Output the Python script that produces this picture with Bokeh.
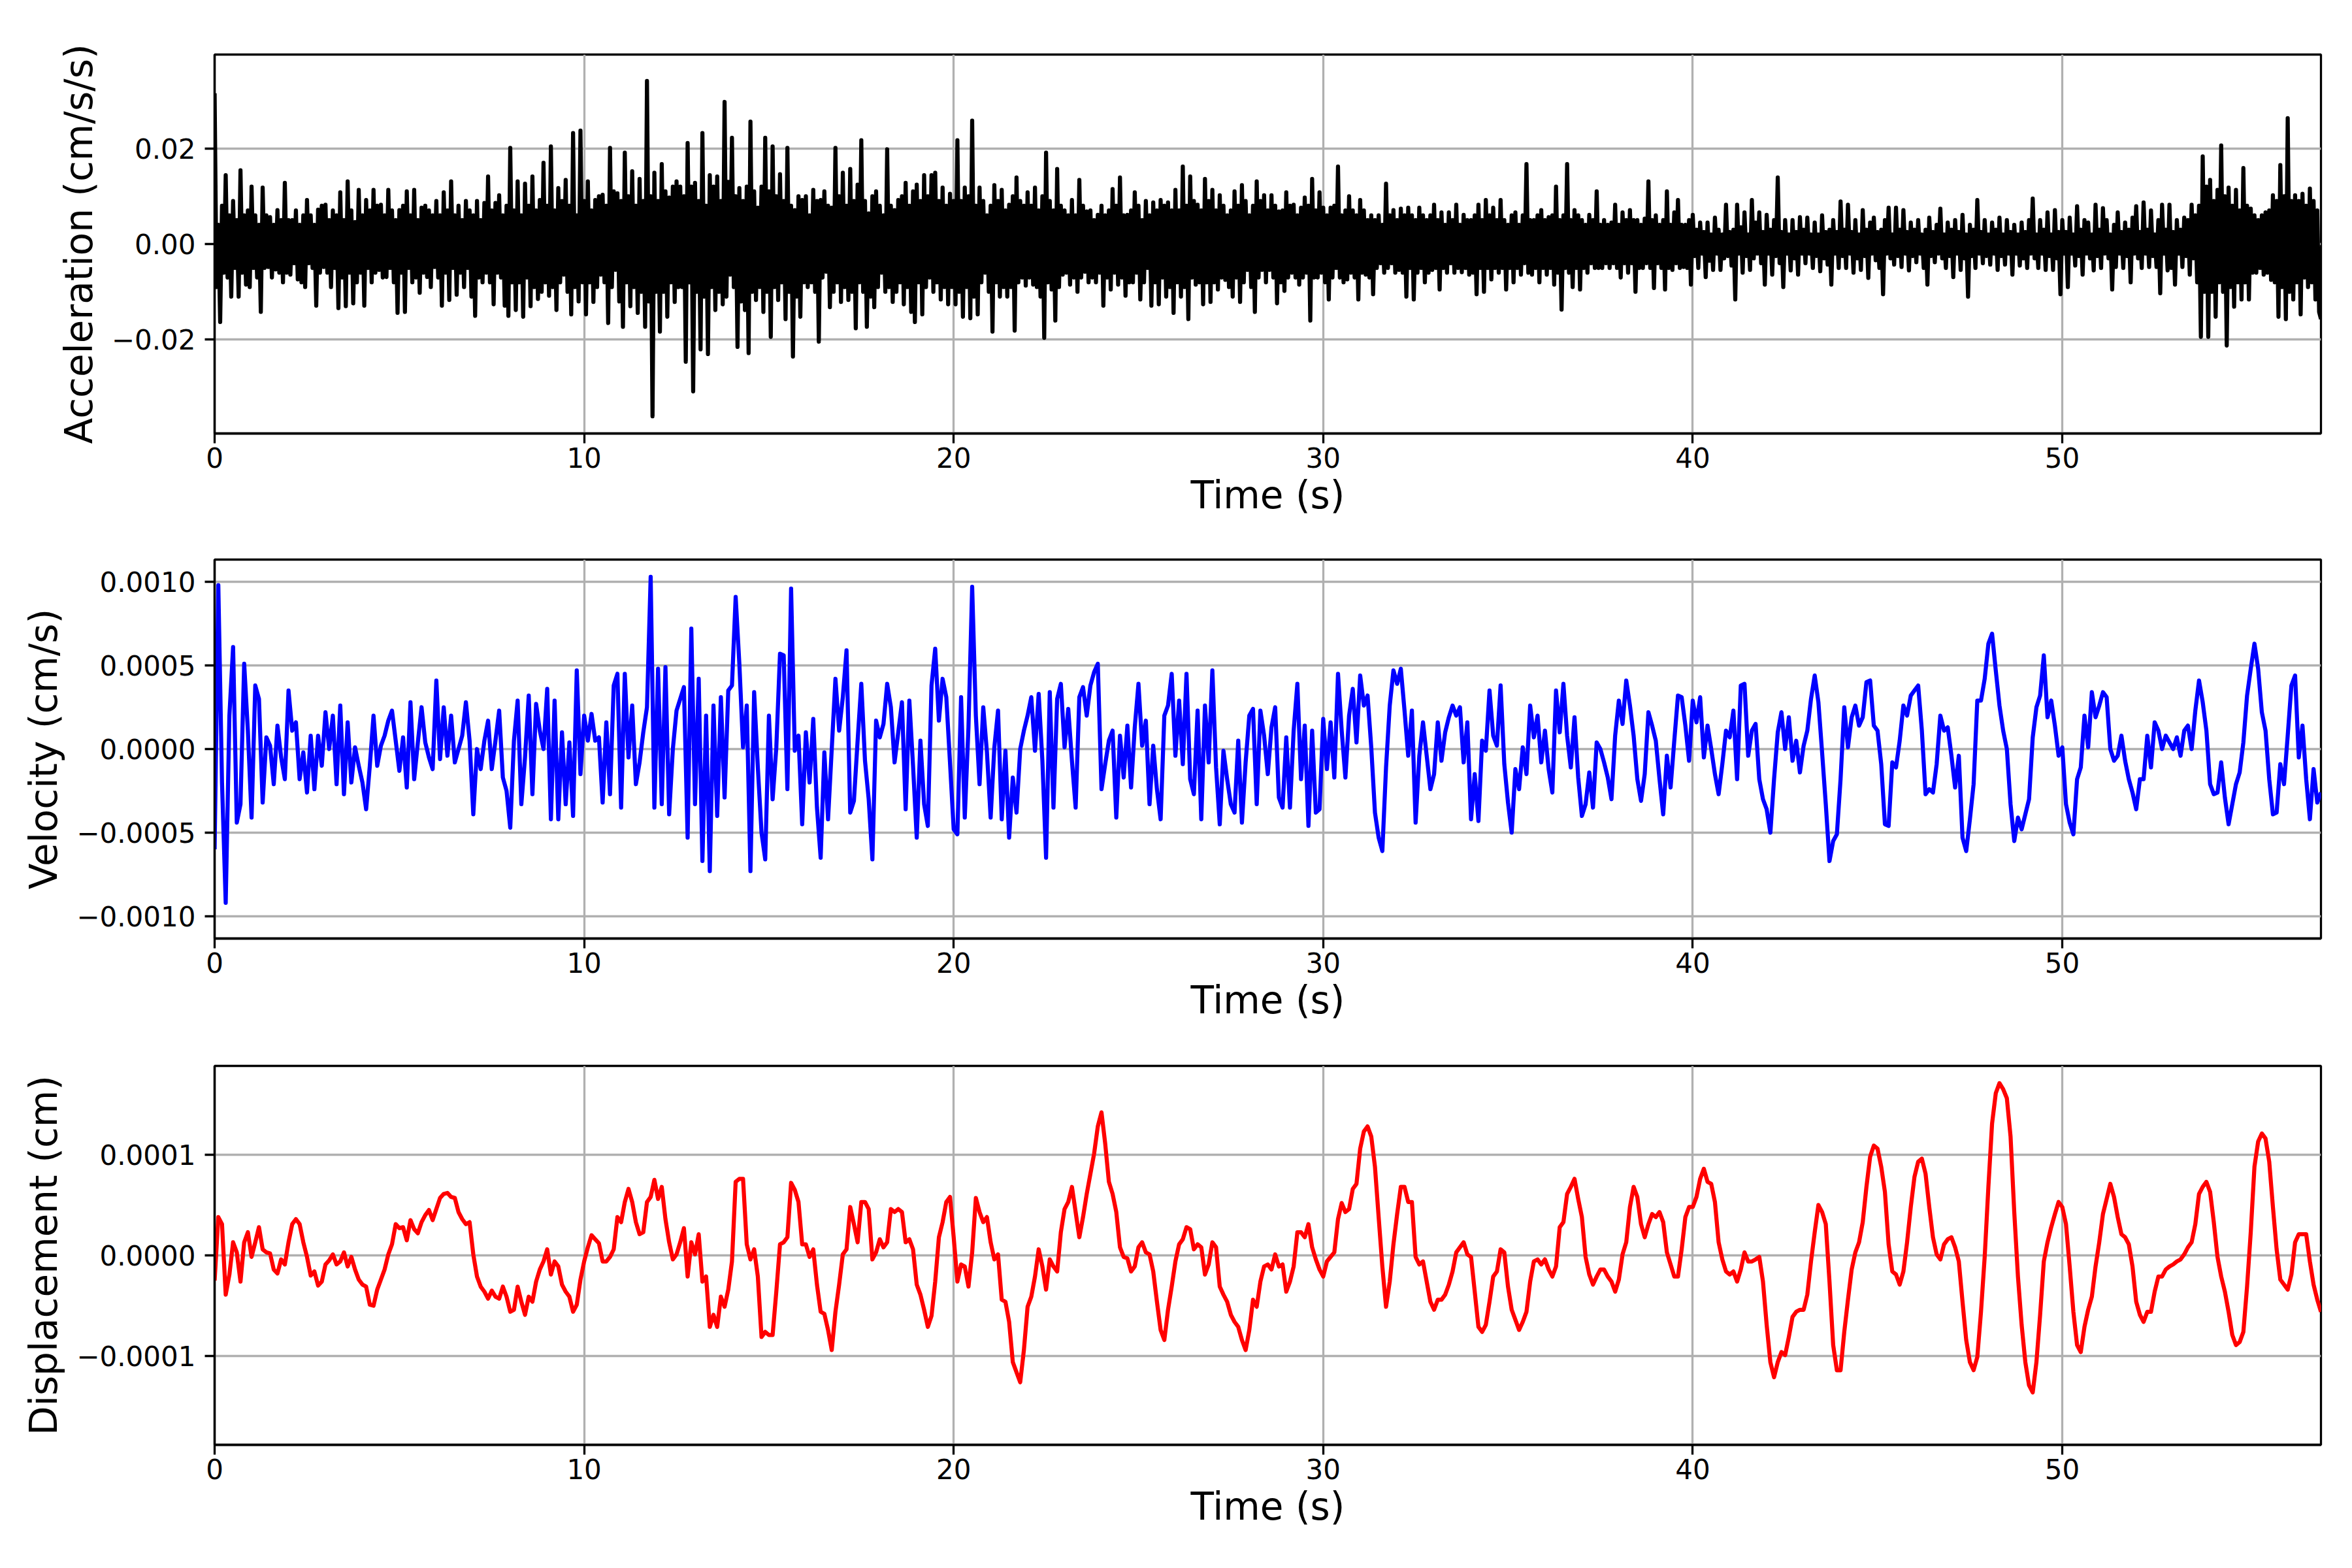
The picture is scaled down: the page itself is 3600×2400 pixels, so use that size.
import numpy as np
from bokeh.plotting import figure
from bokeh.layouts import column
from bokeh.models import Range1d, FixedTicker, CustomJSTickFormatter
from bokeh.embed import file_html
from bokeh.resources import INLINE

# ---------------- data ----------------
DT_ACC = 0.05       # acceleration sampled every 0.05 s
DT = 0.1            # velocity / displacement sampled every 0.1 s
ACC_UNIT = 1e-3     # acc_milli values are in 1e-3 cm/s/s
VEL_UNIT = 1e-4     # vel_e4 values are in 1e-4 cm/s
DISP_UNIT = 1e-6    # disp_e6 values are in 1e-6 cm

acc_milli = [
    31.5, -9, 4, -16.3, 8, -6, 14.4, -7, 6, -11, 9, -5, 5, -11, 15.4, -6, 6, -8.5, 7, -9,
    12, -5, 6, -7, 4, -14.2, 11.8, -5, 6, -4.8, 5.6, -7, 4, -5.3, 7.1, -6, 5, -8, 12.8, -6,
    5, -6.4, 5, -4, 7, -7.4, 4, -8, 6, -9, 9.2, -4, 6, -5, 4, -12.9, 7.2, -6, 8, -4.8,
    8.2, -6, 5, -9, 7, -5, 6, -13.4, 10.8, -7, 5, -13, 13.1, -6, 7, -12.4, 4.6, -8, 11.3, -6,
    6, -12.9, 9.2, -5, 7, -8, 11.3, -6, 8, -5.4, 8.2, -7, 6, -6.9, 11.3, -5, 7, -8, 5, -14.4,
    7.1, -6, 8, -14.2, 11, -5, 6, -8, 11.3, -7, 5, -10.2, 7.6, -6, 8, -6.9, 7, -9, 6, -4.8,
    9, -7, 6, -12.9, 10.8, -6, 7, -11.7, 13.1, -5, 6, -10.6, 8, -6, 5, -9, 9, -5, 7, -11,
    6, -15, 9, -7, 5, -8, 8.6, -6, 14.1, -8, 7, -12.6, 8.6, -6, 10.2, -7, 6, -12.9, 8, -15,
    20.1, -8, 7, -13.8, 13.1, -8, 6, -15.2, 12.6, -7, 8, -13, 14.1, -9, 7, -11.5, 9.2, -10, 17, -8,
    8, -10.8, 20.4, -9, 7, -13.8, 11.7, -8, 9, -6.4, 13.4, -10, 8, -14.7, 23.2, -9, 6, -12, 23.7, -8,
    9, -14.7, 13.1, -8, 7, -12.1, 9.2, -9, 10, -6.4, 10.3, -8, 8, -16.5, 20.1, -9, 11, -5.4, 10.6, -12,
    9, -17.3, 19.1, -8, 10, -13, 15.2, -9, 8, -14.4, 13.6, -10, 9, -17.3, 34.1, -12, 10, -36, 14.9, -10,
    9, -18.3, 16.7, -10, 11, -15.2, 9.7, -8, 12, -12.1, 13.1, -9, 12, -9, 10, -24.6, 21.1, -8, 12, -30.8,
    12.8, -10, 9, -22, 23.2, -11, 8, -23, 14.4, -9, 12, -13.8, 14.1, -10, 9, -12.6, 29.7, -11, 13, -6.4,
    22.2, -9, 10, -21.5, 11.7, -12, 9, -13.8, 12, -22.8, 25.6, -10, 11, -11.7, 7.6, -9, 12, -14.2, 22.2, -10,
    11, -19.4, 20.4, -9, 10, -11.7, 14.6, -8, 9, -15.7, 20.1, -10, 8, -23.5, 7.1, -11, 10, -15.2, 9.2, -8,
    10, -9, 6, -8, 11.3, -10, 9, -20.4, 9.2, -7, 11, -5.8, 8, -13.2, 7.6, -10, 20.1, -8, 10, -12.1,
    14.9, -9, 8, -11.7, 15.7, -10, 9, -17.6, 12.4, -8, 21.7, -10, 9, -17.3, 6.4, -11, 10, -13.2, 11, -9,
    8, -6, 6, -10, 19.8, -9, 8, -12.1, 7.1, -10, 9.2, -8, 10, -12.6, 12.8, -9, 8, -14.2, 11, -16.3,
    12.4, -8, 9, -14.7, 14.4, -9, 10, -7, 14.4, -10, 14.9, -8, 9, -11.6, 11.8, -9, 8, -12.6, 10.5, -9,
    9, -12.6, 21.7, -10, 9, -15.2, 11.8, -9, 10, -15.5, 25.8, -11, 8, -14.7, 11.8, -8, 9, -6, 6, -10,
    8, -18.3, 12.3, -8, 9, -11, 11.3, -9, 7, -11, 8.2, -9, 10, -18.1, 13.9, -8, 9, -7, 8, -8.7,
    10.8, -7, 8, -8.5, 11.8, -9, 7, -11, 10, -19.6, 19.1, -8, 9, -9.5, 7, -16, 15.7, -9, 8, -6.4,
    7, -6, 6, -8.5, 9.2, -7, 6, -10, 13.4, -7, 8, -5.8, 6.8, -8, 7, -7, 5, -8, 6.1, -6,
    8, -12.9, 6, -7, 7, -9.5, 11.5, -6, 8, -8.5, 13.9, -7, 6, -10.8, 6.1, -8, 7, -8, 10.8, -6,
    8, -11.6, 5, -8, 9, -5, 6, -12.9, 8.7, -8, 7, -12.6, 9.2, -7, 8, -11, 8.7, -9, 7, -14.4,
    11.3, -8, 7, -11, 16.2, -9, 8, -15.7, 14.1, -7, 9, -8.5, 8.2, -8, 7, -12.6, 13.6, -8, 9, -12.1,
    11.3, -8, 7, -9.5, 10.2, -7, 8, -7.5, 6, -9, 7, -11, 11, -7, 8, -12.1, 12.3, -8, 9, -5.4,
    6, -9, 8, -14.2, 13.1, -7, 9, -5.4, 10.2, -8, 7, -5.4, 10.2, -7, 8, -12.4, 6.8, -8, 7, -9.8,
    10.8, -7, 8, -6, 8.2, -7, 6, -8.5, 7.6, -7, 9.7, -6, 8, -16, 13.6, -7, 7, -7, 10.8, -6,
    7.6, -8, 6, -11.6, 7.6, -7, 8, -5, 16.2, -7, 6, -8, 7, -7.4, 10, -6, 7, -7, 6, -11.6,
    9.2, -6, 7, -6.4, 5, -7, 6, -10.5, 5, -5, 6, -4, 4, -6, 12.6, -5, 6, -4, 7.1, -6,
    5, -5.4, 7.4, -6, 6, -11, 7.6, -5, 6, -11.6, 5, -6, 7.6, -5, 6, -8, 5, -6, 6, -5.4,
    8.2, -5, 5, -9.5, 6.6, -5, 4, -6, 6.6, -4, 5, -6, 8.2, -5, 4, -5.9, 6.1, -5, 5, -6.4,
    5, -6, 6, -10.5, 8.2, -5, 5, -10, 9.2, -5, 6, -7.4, 7.6, -5, 5, -6, 9.2, -5, 5, -9.5,
    4, -5, 6, -8, 6.6, -5, 4, -6.4, 6, -4, 16.7, -6, 5, -6.4, 5, -5, 6, -8, 7.1, -5,
    5, -6.4, 5.6, -5, 6, -8.5, 12, -6, 5, -13.7, 6, -5, 16.7, -6, 5, -9, 7.1, -5, 6, -9.5,
    5, -5, 4, -6, 6.1, -4, 5, -5, 11, -5, 4, -5, 5, -4, 4, -5, 4.5, -4, 8.2, -5,
    4, -7, 6.6, -4, 5, -6, 7.1, -4, 5, -10, 5, -5, 4, -5, 5.3, -4, 13.1, -5, 5, -9.2,
    6, -4, 4, -5, 5, -9.5, 11, -5, 4, -5.4, 6.6, -4, 9.2, -5, 4, -4.8, 4, -5, 5, -8.5,
    6.1, -2.5, 3, -5, 4.5, -2, 2.5, -6.9, 4.5, -3.5, 2, -5.4, 5.5, -2, 3, -5.4, 2, -3, 8.2, -2.5,
    2.5, -4.5, 3, -11.6, 8.2, -2, 3.5, -6, 6.6, -2.5, 2, -5.4, 9.2, -3, 4.5, -2, 6.6, -4, 2.5, -8.5,
    6.1, -2, 3, -6.4, 5, -2.5, 13.9, -4, 2.5, -9, 5, -2, 2, -5.5, 5, -3, 2.5, -6.4, 5.6, -2,
    3, -4, 5.5, -2, 2, -5, 4.5, -2.5, 2, -5.7, 6, -3, 2.5, -4.3, 3, -8.5, 5, -2, 2.5, -5,
    8.9, -2.5, 3, -5, 8.2, -2, 2.5, -6, 5, -3, 2, -5.4, 7.1, -2.5, 3, -7.1, 4.5, -2, 5.5, -3.4,
    2.5, -5, 3, -10.5, 5, -2, 7.6, -3, 2, -4.3, 7.6, -2.5, 3, -4.8, 7.1, -2, 2.5, -5.5, 4.5, -2.5,
    3, -3.8, 5, -2, 2, -5, 3, -8.5, 5.5, -2.5, 2.5, -3.8, 4, -2, 7.4, -3, 2, -5, 4.5, -2.5,
    3, -6.9, 5, -2, 2.5, -5.4, 6.1, -3, 2, -11, 4, -2.5, 3, -5, 9.2, -2, 2.5, -4, 5, -2.5,
    2, -4.3, 4.5, -2, 3, -5.4, 5.5, -2.5, 2, -4.3, 5, -2, 2.5, -6.4, 4, -2, 2, -4.5, 4.5, -3,
    2.5, -5, 5, -2, 9.5, -3, 2, -5, 5, -2, 3, -5.4, 6.6, -2.5, 2, -5.4, 7.1, -3, 2.5, -10.5,
    5, -2, 2.5, -9, 5.5, -2, 2, -4.5, 7.9, -2.5, 3, -6.4, 5, -2, 4.5, -3, 2, -5.5, 8.2, -2.5,
    3, -5, 7.5, -2, 5, -3, 2, -9.5, 4, -4.8, 6.6, -2, 2.5, -5, 4.5, -2.5, 3, -8, 5.5, -2,
    7.9, -3, 2.5, -5, 8.7, -2, 3, -4.8, 7, -2.5, 2, -4.8, 5, -10.3, 8.2, -2, 3, -5.5, 8.2, -5,
    2.5, -8.5, 5, -2, 3, -4.8, 5.5, -2.5, 5, -6.4, 8.2, -3, 6, -8, 8, -19.4, 18.3, -10, 12, -19.4,
    13.4, -10, 9, -15.2, 11.3, -8, 20.6, -10, 10, -21.2, 11.8, -9, 8, -13.1, 11.3, -8, 7, -11.6, 15.9, -8,
    8, -11.6, 7.4, -6, 6, -6, 5, -5, 6, -6.4, 6.6, -6, 7, -7.5, 10.2, -8, 9, -15.2, 16.5, -9,
    10, -15.7, 26.3, -10, 9, -11.6, 10.2, -8, 9, -14.7, 10.5, -7, 8, -9, 11.6, -8, 9, -11.6, 7, -14.2,
    -15.7,
]

vel_e4 = [
    -6, 9.8, -2, -9.2, 2, 6.1, -4.4, -3.3, 5.1, 1.1,
    -4.1, 3.8, 3.0, -3.2, 0.7, 0.2, -2.1, 1.4, -0.5, -1.8,
    3.5, 1.1, 1.6, -1.8, -0.2, -2.6, 0.8, -2.4, 0.8, -1.0,
    2.2, 0, 2.0, -2.1, 2.6, -2.7, 1.6, -2.0, 0.1, -1.0,
    -2.0, -3.6, -1.0, 2.0, -1.0, 0.2, 0.8, 1.7, 2.3, 0.5,
    -1.3, 0.7, -2.3, 2.8, -1.8, 0.4, 2.5, 0.4, -0.5, -1.2,
    4.1, -0.6, 2.5, -0.4, 2.0, -0.8, 0, 0.8, 2.8, 0.5,
    -3.9, 0, -1.2, 0.5, 1.7, -1.2, 0.5, 2.3, -1.7, -2.5,
    -4.7, 0.5, 2.9, -3.3, -0.5, 3.2, -2.7, 2.7, 1.1, 0,
    3.6, -4.2, 2.9, -4.2, 1.0, -3.3, 0.4, -4.0, 4.7, -1.5,
    2.0, 0.5, 2.1, 0.5, 0.7, -3.2, 1.6, -2.7, 3.8, 4.5,
    -3.5, 4.5, -0.5, 2.6, -2.1, -0.8, 1.0, 2.5, 10.3, -3.5,
    4.8, -3.3, 4.9, -3.9, 0, 2.3, 3.0, 3.7, -5.3, 7.2,
    -3.3, 4.2, -6.7, 2.0, -7.3, 2.6, -4.0, 3.1, -2.9, 3.5,
    3.8, 9.1, 5.1, 0.1, 2.6, -7.3, 3.4, -1.1, -5.0, -6.6,
    2.0, -3.0, 0.1, 5.7, 5.6, -2.4, 9.6, -0.1, 0.8, -4.5,
    1.0, -2.0, 1.8, -3.5, -6.5, -0.2, -4.2, 0, 4.2, 1.1,
    3.1, 5.9, -3.8, -3.1, 0.5, 3.9, -0.7, -3, -6.6, 1.7,
    0.7, 1.5, 3.9, 2.5, -0.8, 1.0, 2.8, -3.6, 2.9, -1.0,
    -5.3, 0.5, -3.3, -4.6, 3.8, 6.0, 1.7, 4.2, 3.1, -0.8,
    -4.8, -5.1, 3.1, -4.1, 1.3, 9.7, 2.0, -2.1, 2.5, -0.2,
    -4.1, 0.1, 2.3, -4.2, -0.1, -5.3, -1.7, -3.8, 0, 1.1,
    2.0, 3.1, -0.1, 3.3, -0.7, -6.5, 3.4, -3.5, 3.0, 3.9,
    0.1, 2.4, -0.7, -3.5, 3.1, 3.7, 2.0, 3.8, 4.6, 5.1,
    -2.4, -0.9, 0.5, 1.1, -4.1, 0.8, -1.7, 1.4, -2.3, 1.3,
    3.9, 0.2, 1.7, -3.3, 0.2, -2.4, -4.2, 2.0, 2.6, 4.5,
    -0.4, 2.9, -0.9, 4.5, -1.8, -2.7, 2.3, -4.2, 2.6, -0.8,
    4.7, -1.1, -4.5, -0.1, -1.8, -3.3, -3.8, 0.5, -4.4, -0.8,
    2.0, 2.4, -3.3, 2.3, 0.8, -1.5, 1.3, 2.5, -2.9, -3.5,
    0.7, -3.5, 1.1, 3.9, -1.8, 1.4, -4.6, 1.1, -3.8, -3.6,
    1.8, -1.2, 1.6, -1.7, 4.5, 1.1, -1.7, 2.0, 3.6, 0.4,
    4.4, 2.6, 3.2, 0.1, -3.8, -5.3, -6.1, -1.1, 2.6, 4.7,
    3.9, 4.8, 2.3, -0.4, 2.3, -4.4, -0.4, 1.6, -0.4, -2.4,
    -1.5, 1.6, -0.7, 1.0, 1.9, 2.6, 2.0, 2.5, -0.8, 1.6,
    -4.2, -1.5, -4.3, 0.5, -0.1, 3.5, 0.8, 0.2, 3.8, -0.9,
    -3.2, -5.0, -1.2, -2.4, 0.1, -1.5, 2.6, 0.7, 2.0, -0.8,
    1.1, -1.2, -2.6, 3.5, 1.0, 3.9, 0.8, -1.1, 1.9, -1.7,
    -4.0, -3.3, -1.4, -3.5, 0.4, 0, -0.8, -1.7, -3.0, 0.8,
    2.9, 1.5, 4.1, 2.6, 0.8, -1.8, -3.1, -1.5, 2.2, 1.4,
    0.5, -1.8, -3.9, -0.4, -2.3, 0.5, 3.2, 3.1, 1.4, -0.7,
    2.9, 1.6, 3.1, -0.5, 1.4, 0, -1.5, -2.7, -0.9, 1.1,
    0.7, 2.3, -1.8, 3.8, 3.9, -0.4, 1.1, 1.5, -1.8, -3.0,
    -3.6, -5.0, -1.8, 1.0, 2.2, 0, 1.9, -0.7, 0.5, -1.4,
    0.2, 1.1, 3.0, 4.4, 2.8, -0.2, -3.3, -6.7, -5.5, -5.1,
    -1.8, 2.5, 0.1, 1.9, 2.6, 1.4, 1.9, 4.0, 4.1, 1.4,
    1.1, -0.9, -4.5, -4.6, -0.8, -1.1, 0.5, 2.6, 2.0, 3.2,
    3.5, 3.8, 1.1, -2.7, -2.4, -2.6, -0.9, 2.0, 1.1, 1.3,
    -0.4, -2.3, -0.4, -5.3, -6.1, -4.2, -2.1, 2.9, 2.9, 4.2,
    6.3, 6.9, 4.7, 2.6, 1.1, 0, -3.3, -5.5, -4.1, -4.8,
    -3.9, -3.0, 0.7, 2.5, 3.2, 5.6, 1.9, 2.9, 1.4, -0.4,
    0.1, -3.3, -4.4, -5.1, -1.8, -1.1, 2.0, 0.1, 3.4, 1.9,
    2.6, 3.4, 3.1, 0, -0.7, -0.4, 0.8, -0.7, -1.8, -2.6,
    -3.6, -1.8, -1.8, 0.8, -1.1, 1.6, 1.1, 0, 0.8, 0.4,
    0, 0.7, -0.4, 1.1, 1.4, 0, 2.3, 4.1, 2.8, 1.1,
    -2.1, -2.7, -2.6, -0.8, -2.9, -4.5, -3.3, -2.1, -1.4, 0.4,
    3.2, 4.8, 6.3, 4.8, 2.2, 1.1, -1.8, -3.9, -3.8, -0.9,
    -2.1, 0.8, 3.8, 4.4, -0.5, 1.4, -1.8, -4.2, -1.2, -3.2,
    -2.6,
]

disp_e6 = [
    -25, 38, 31, -39, -19, 13, 3, -26, 13, 23,
    -1.5, 13, 28, 6, 3, 2, -14, -18, -4, -9,
    13, 31, 36, 31, 13, -1.5, -20, -16, -30, -26,
    -9, -5, 1, -9, -6, 3, -11, -1.5, -14, -24,
    -29, -31, -49, -50, -34, -24, -14, 1, 11, 31,
    27, 28, 15, 35, 26, 22, 33, 40, 45, 35,
    46, 57, 61, 62, 58, 57, 43, 36, 31, 33,
    1, -21, -31, -36, -43, -35, -41, -43, -31, -41,
    -56, -54, -31, -46, -59, -41, -46, -26, -14, -6,
    6, -19, -6, -11, -29, -36, -41, -56, -49, -24,
    -6, 8, 20, 16, 12, -6, -6, -1.5, 6, 38,
    33, 53, 66, 53, 33, 21, 23, 53, 58, 75,
    56, 68, 36, 13, -4, 1, 13, 27, -21, 13,
    1, 21, -26, -21, -71, -59, -71, -41, -51, -34,
    -6, 73, 76, 76, 11, -4, 6, -21, -81, -76,
    -79, -79, -36, 11, 13, 18, 72, 65, 53, 11,
    11, -1.5, 6, -29, -56, -58, -74, -94, -56, -29,
    1, 6, 48, 31, 13, 53, 53, 46, -4, 3,
    16, 8, 13, 46, 43, 46, 43, 13, 16, 6,
    -29, -39, -54, -71, -60, -26, 18, 33, 53, 58,
    18, -26, -9, -11, -31, 3, 57, 43, 33, 38,
    13, -4, 1, -44, -46, -66, -106, -116, -126, -94,
    -51, -41, -21, 6, -11, -34, -4, -11, -16, 23,
    46, 53, 68, 43, 18, 38, 61, 81, 101, 128,
    142, 111, 73, 61, 43, 8, -1.5, -3, -16, -11,
    8, 13, 3, 1, -16, -46, -74, -84, -54, -31,
    -6, 11, 16, 28, 26, 6, 11, 8, -19, -9,
    13, 8, -31, -39, -46, -59, -66, -71, -84, -94,
    -74, -44, -51, -26, -11, -9, -14, 1, -11, -9,
    -36, -26, -11, 23, 23, 18, 31, 8, -4, -14,
    -21, -6, -1.5, 3, 36, 52, 43, 46, 66, 71,
    106, 123, 128, 118, 88, 38, -11, -51, -26, 11,
    41, 68, 68, 53, 53, -1.5, -9, -6, -26, -46,
    -54, -44, -44, -39, -29, -16, 3, 8, 13, 1,
    -1.5, -36, -71, -76, -69, -46, -21, -16, 6, 3,
    -31, -54, -64, -74, -66, -56, -26, -6, -4, -9,
    -4, -14, -21, -11, 28, 33, 61, 68, 76, 56,
    38, -1.5, -19, -29, -21, -14, -14, -21, -26, -36,
    -24, 1, 13, 48, 68, 58, 31, 18, 31, 41,
    38, 43, 33, 3, -9, -21, -21, 6, 38, 48,
    48, 58, 76, 86, 73, 71, 53, 13, -4, -16,
    -19, -16, -26, -14, 3, -6, -6, -4, -1.5, -26,
    -69, -106, -121, -106, -96, -99, -81, -61, -56, -54,
    -54, -39, -6, 23, 50, 43, 31, -26, -89, -114,
    -114, -76, -44, -14, 3, 13, 33, 68, 98, 109,
    106, 88, 63, 11, -16, -19, -29, -16, 13, 48,
    78, 93, 96, 81, 48, 18, 1, -4, 11, 16,
    18, 8, -6, -46, -84, -106, -114, -101, -56, -1.5,
    68, 131, 161, 171, 165, 156, 118, 43, -21, -69,
    -106, -129, -136, -106, -59, -6, 13, 28, 41, 53,
    48, 31, -11, -56, -89, -96, -71, -54, -41, -11,
    13, 41, 56, 71, 58, 38, 21, 18, 11, -11,
    -46, -59, -66, -56, -56, -36, -21, -21, -14, -11,
    -9, -6, -4, 1, 8, 13, 31, 61, 68, 73,
    63, 33, -1.5, -21, -36, -56, -79, -89, -86, -76,
    -31, 23, 88, 113, 121, 116, 93, 48, 6, -24,
    -29, -34, -19, 13, 21, 21, 21, -6, -29, -44,
    -56,
]

x_ticks = [0, 10, 20, 30, 40, 50]
acc_ticks = [-0.02, 0.0, 0.02]
vel_ticks = [-0.001, -0.0005, 0.0, 0.0005, 0.001]
disp_ticks = [-0.0001, 0.0, 0.0001]

# ---------------- styling ----------------
FONT = "DejaVu Sans"
TICK_PX = "42px"
LABEL_PX = "58px"
LW = 3.3
GRID = "#b0b0b0"

FMT_CODE = """
const v = Math.abs(tick) < 1e-12 ? 0 : tick;
return v.toFixed(dec).replace('-', '\\u2212');
"""


def panel(values, unit, dt, color, ylabel, yticks, dec, top, bottom):
    y = np.asarray(values, dtype=float) * unit
    t = np.arange(len(y)) * dt
    lim = 1.1 * float(np.max(np.abs(y)))
    p = figure(frame_width=3224, frame_height=580,
               min_border_left=328, min_border_right=32,
               min_border_top=top, min_border_bottom=bottom,
               x_range=Range1d(0, float(t[-1])), y_range=Range1d(-lim, lim),
               output_backend="svg", toolbar_location=None)
    p.background_fill_color = "white"
    p.border_fill_color = "white"
    p.outline_line_color = "black"
    p.outline_line_width = LW
    p.outline_line_alpha = 1.0

    p.line(t, y, line_color=color, line_width=6.25, line_join="round")

    p.xaxis.ticker = FixedTicker(ticks=x_ticks)
    p.yaxis.ticker = FixedTicker(ticks=yticks)
    p.yaxis.formatter = CustomJSTickFormatter(args=dict(dec=dec), code=FMT_CODE)
    p.xaxis.axis_label = "Time (s)"
    p.yaxis.axis_label = ylabel

    for ax in (p.xaxis[0], p.yaxis[0]):
        ax.axis_line_color = "black"
        ax.axis_line_width = LW
        ax.major_tick_line_color = "black"
        ax.major_tick_line_width = LW
        ax.major_tick_out = 15
        ax.major_tick_in = 0
        ax.minor_tick_line_color = None
        ax.major_label_text_font = FONT
        ax.major_label_text_font_size = TICK_PX
        ax.major_label_text_color = "black"
        ax.axis_label_text_font = FONT
        ax.axis_label_text_font_size = LABEL_PX
        ax.axis_label_text_font_style = "normal"
        ax.axis_label_text_color = "black"
    p.xaxis.major_label_standoff = 6
    p.xaxis.axis_label_standoff = 5
    p.yaxis.major_label_standoff = 14
    p.yaxis.axis_label_standoff = 13

    for g in (p.xgrid[0], p.ygrid[0]):
        g.grid_line_color = GRID
        g.grid_line_width = LW
    return p


p1 = panel(acc_milli, ACC_UNIT, DT_ACC, "black", "Acceleration (cm/s/s)", acc_ticks, 2, 83, 150)
p2 = panel(vel_e4, VEL_UNIT, DT, "blue", "Velocity (cm/s)", vel_ticks, 4, 43, 150)
p3 = panel(disp_e6, DISP_UNIT, DT, "red", "Displacement (cm)", disp_ticks, 4, 45, 150)

layout = column(p1, p2, p3)
open("out.html", "w").write(file_html(layout, INLINE, "Acceleration, velocity, displacement"))
